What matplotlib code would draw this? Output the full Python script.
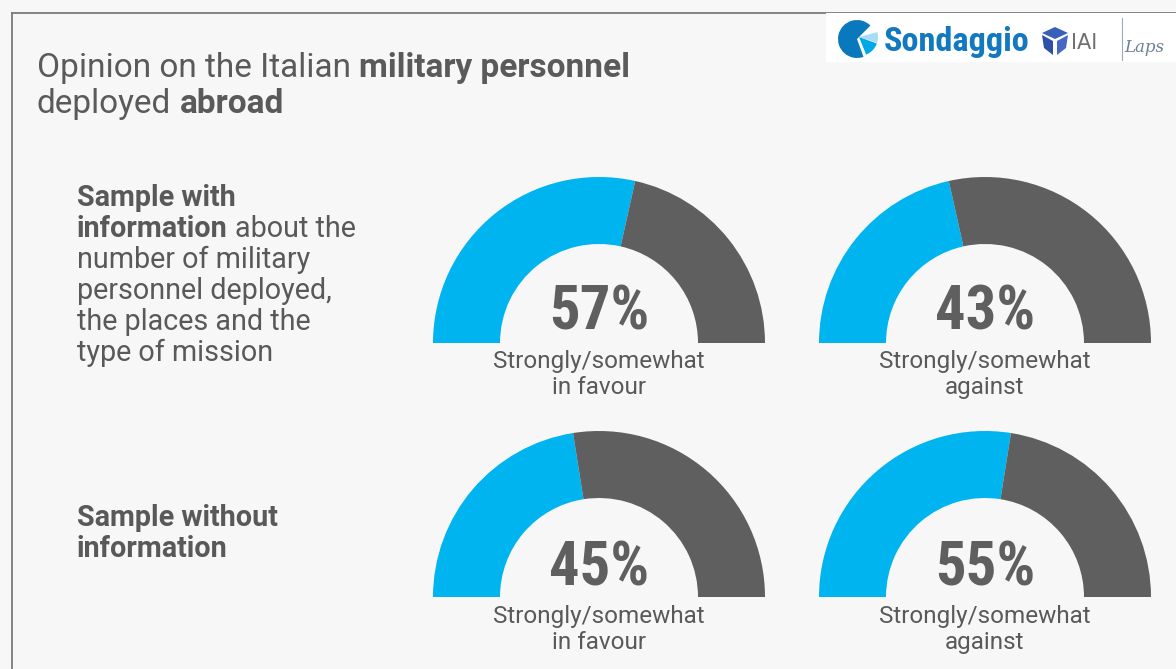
import matplotlib
matplotlib.use("Agg")
import matplotlib.pyplot as plt
from matplotlib.patches import Wedge, Rectangle, Polygon
from matplotlib import font_manager as fm
from matplotlib.lines import Line2D

# ---------------- data ----------------
row_labels_runs = [
    [[("Sample with", "bold")],
     [("information", "bold"), ("about the", "normal")],
     [("number of military", "normal")],
     [("personnel deployed,", "normal")],
     [("the places and the", "normal")],
     [("type of mission", "normal")]],
    [[("Sample without", "bold")],
     [("information", "bold")]],
]
gauge_values = [[57, 43], [45, 55]]          # percent shown (blue share)
gauge_labels = [["Strongly/somewhat\nin favour", "Strongly/somewhat\nagainst"],
                ["Strongly/somewhat\nin favour", "Strongly/somewhat\nagainst"]]
title_runs = [[("Opinion on the Italian", "normal"), ("military personnel", "bold")],
              [("deployed", "normal"), ("abroad", "bold")]]

# ---------------- style ----------------
W, H = 1176, 669
BG = "#f7f7f7"
BLUE = "#00b4ef"
GREY = "#5f5f5f"
TXT = "#595959"
BODY = "Roboto"

def find_condensed():
    pref = ["Roboto Condensed", "Open Sans Condensed", "Liberation Sans Narrow",
            "DejaVu Sans Condensed"]
    lst = fm.fontManager.ttflist
    for p in pref:
        for f in lst:
            if f.name == p and f.weight in ("bold", 700, "semibold", 600):
                return fm.FontProperties(fname=f.fname)
        for f in lst:
            if f.name == p:
                return fm.FontProperties(fname=f.fname, weight="bold")
    for f in lst:
        if ("ondensed" in f.fname or "Narrow" in f.fname) and "Bold" in f.fname and "Oblique" not in f.fname and "Italic" not in f.fname:
            return fm.FontProperties(fname=f.fname)
    return fm.FontProperties(family=BODY, weight="bold")

COND = find_condensed()

fig = plt.figure(figsize=(W / 100, H / 100), dpi=100)
fig.patch.set_facecolor(BG)
ax = fig.add_axes([0, 0, 1, 1])
ax.set_xlim(0, W)
ax.set_ylim(0, H)
ax.axis("off")
renderer = fig.canvas.get_renderer()

def Y(y):
    return H - y

def text_width(s, size, weight, family=BODY, fp=None):
    if fp is not None:
        t = ax.text(0, 0, s, fontproperties=fp, fontsize=size)
    else:
        t = ax.text(0, 0, s, fontsize=size, fontweight=weight, family=family)
    w = t.get_window_extent(renderer).width
    t.remove()
    return w

def draw_runs(x, y, runs, size, color=TXT, family=BODY):
    cx = x
    sp = text_width("x x", size, "normal", family) - text_width("xx", size, "normal", family)
    for i, (s, wgt) in enumerate(runs):
        t = ax.text(cx, Y(y), s, fontsize=size, fontweight=wgt, family=family,
                    color=color, ha="left", va="baseline")
        bb = t.get_window_extent(renderer)
        cx = bb.x1 + sp
    return cx - sp - x

def fit_size(runs, target, size0=20, family=BODY):
    sp = text_width("x x", size0, "normal", family) - text_width("xx", size0, "normal", family)
    w = sum(text_width(s, size0, wgt, family) for s, wgt in runs) + sp * (len(runs) - 1)
    return size0 * target / w

# border lines and logo box
ax.add_line(Line2D([12, W], [Y(12.5), Y(12.5)], color="#7a7a7a", lw=1.3))
ax.add_line(Line2D([12, 12], [Y(12.5), 0], color="#7a7a7a", lw=1.3))
ax.add_patch(Rectangle((826, Y(62)), W - 826, 49, facecolor="white", edgecolor="none", zorder=2))

# logo: pie icon
ax.add_patch(Wedge((857, Y(39)), 19, 45, 290, facecolor="#0a78bd", edgecolor="none", zorder=3))
ax.add_patch(Wedge((859, Y(37)), 19, 292, 340, facecolor="#00a9e6", edgecolor="none", zorder=3))
ax.add_patch(Wedge((859, Y(37)), 19, 342, 375, facecolor="#a8ddf5", edgecolor="none", zorder=3))
ssize = 21 * 146 / text_width("Sondaggio", 21, None, fp=COND)
ax.text(884, Y(51), "Sondaggio", fontproperties=COND, fontsize=ssize, color="#1278bf",
        ha="left", va="baseline", zorder=3)
# IAI cube + text
ax.add_patch(Polygon([(1042, Y(33)), (1055, Y(27)), (1068, Y(33)), (1055, Y(39))],
                     closed=True, facecolor="#3a5fb8", edgecolor="none", zorder=3))
ax.add_patch(Polygon([(1042, Y(35)), (1053, Y(41)), (1053, Y(55)), (1044, Y(48))],
                     closed=True, facecolor="#2e4ea8", edgecolor="none", zorder=3))
ax.add_patch(Polygon([(1057, Y(41)), (1068, Y(35)), (1066, Y(48)), (1057, Y(55))],
                     closed=True, facecolor="#4468c4", edgecolor="none", zorder=3))
ax.text(1071, Y(49), "IAI", fontsize=15, family="DejaVu Sans", color="#707070",
        ha="left", va="baseline", zorder=3)
ax.add_line(Line2D([1122, 1122], [Y(18), Y(60)], color="#9aa8b8", lw=0.8, zorder=3))
ax.text(1124, Y(52), "Laps", fontsize=12, family="DejaVu Serif", style="italic",
        color="#6b7f99", ha="left", va="baseline", zorder=3)

# title
tsize = fit_size(title_runs[0], 593, 20)
draw_runs(37, 77, title_runs[0], tsize, color="#5a5a5a")
draw_runs(37, 113, title_runs[1], tsize, color="#5a5a5a")

# left labels
lsize = fit_size([("number of military", "normal")], 233, 18)
row_first_baseline = [206, 526]
for r, lines in enumerate(row_labels_runs):
    for i, runs in enumerate(lines):
        draw_runs(77, row_first_baseline[r] + i * 31, runs, lsize, color=TXT)

# gauges
centers_x = [599, 985]
centers_y = [343, 597]
pct_baseline = [330, 586]
label_baseline = [368, 623]
R_OUT, R_IN = 166, 99
psize = 44
pw = text_width("57%", psize, None, fp=COND)
psize = psize * 100 / pw
lab_size = fit_size([("Strongly/somewhat", "normal")], 212, 15)

for r in range(2):
    for c in range(2):
        v = gauge_values[r][c]
        cx, cy = centers_x[c], Y(centers_y[r])
        split = 180 - 180 * v / 100
        ax.add_patch(Wedge((cx, cy), R_OUT, split, 180, width=R_OUT - R_IN,
                           facecolor=BLUE, edgecolor="none"))
        ax.add_patch(Wedge((cx, cy), R_OUT, 0, split, width=R_OUT - R_IN,
                           facecolor=GREY, edgecolor="none"))
        ax.text(cx, Y(pct_baseline[r]), f"{v}%", fontproperties=COND, fontsize=psize,
                color=GREY, ha="center", va="baseline")
        for k, line in enumerate(gauge_labels[r][c].split("\n")):
            ax.text(cx, Y(label_baseline[r] + 26 * k), line, fontsize=lab_size,
                    family=BODY, color=TXT, ha="center", va="baseline")

fig.savefig("out.png", dpi=100, facecolor=BG)
